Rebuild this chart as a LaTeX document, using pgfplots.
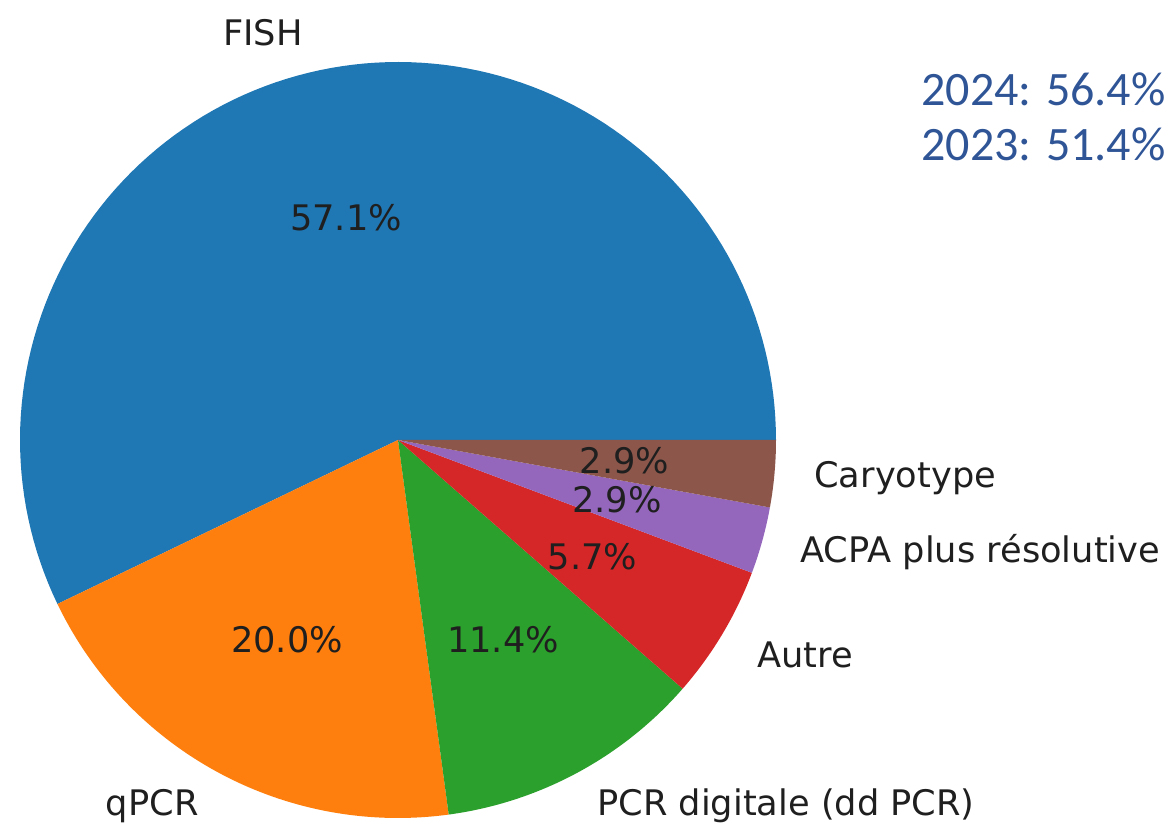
\documentclass[border=0pt]{standalone}
\usepackage{pgfplots}
\pgfplotsset{compat=1.18}
\usepackage{pgfplotstable}
\usepackage{fontspec}
\setmainfont{DejaVu Sans}
\newfontfamily\calib{Carlito}
\definecolor{c1}{HTML}{1F77B4}
\definecolor{c2}{HTML}{FF7F0E}
\definecolor{c3}{HTML}{2CA02C}
\definecolor{c4}{HTML}{D62728}
\definecolor{c5}{HTML}{9467BD}
\definecolor{c6}{HTML}{8C564B}
\definecolor{note}{HTML}{2F5597}
\tikzset{lab/.style={font=\fontsize{17.6}{20}\selectfont, text=black!88, inner sep=0pt}}
% counts: FISH 20, qPCR 7, PCR digitale 4, Autre 2, ACPA 1, Caryotype 1 (total 35)
\pgfplotstableread{
start end
0 205.714
205.714 277.714
277.714 318.857
318.857 339.429
339.429 349.714
349.714 360
}\wedges
\begin{document}
\begin{tikzpicture}
\begin{axis}[
  scale only axis, width=586.5pt, height=414pt,
  xmin=0, xmax=1173, ymin=0, ymax=828,
  hide axis, clip=false,
]
\def\cx{398}\def\cy{388}\def\R{378}
\pgfplotsforeachungrouped \i/\col in {0/c1,1/c2,2/c3,3/c4,4/c5,5/c6}{
  \pgfplotstablegetelem{\i}{start}\of\wedges \let\a=\pgfplotsretval
  \pgfplotstablegetelem{\i}{end}\of\wedges \let\b=\pgfplotsretval
  \edef\temp{\noexpand\addplot[fill=\col, draw=none, domain=\a:\b, samples=120]
    ({\cx+\R*cos(x)},{\cy+\R*sin(x)}) -- (axis cs:\cx,\cy) -- cycle;}
  \temp
}
\coordinate (ll) at (axis cs:0,0);
\coordinate (ur) at (axis cs:1173,828);
% labels (labeldistance 1.1)
\node[lab,anchor=east] at (axis cs:303,795) {FISH};
\node[lab,anchor=east] at (axis cs:199,22) {qPCR};
\node[lab,anchor=west] at (axis cs:597,22) {PCR digitale (dd PCR)};
\node[lab,anchor=west] at (axis cs:757,172.8) {Autre};
\node[lab,anchor=west] at (axis cs:800,276) {ACPA plus résolutive};
\node[lab,anchor=west] at (axis cs:814,350) {Caryotype};
% percentages (pctdistance 0.6)
\node[lab] at (axis cs:346,610) {57.1\%};
\node[lab] at (axis cs:287,188.3) {20.0\%};
\node[lab] at (axis cs:503,188.4) {11.4\%};
\node[lab] at (axis cs:592.7,271.7) {5.7\%};
\node[lab] at (axis cs:617,328) {2.9\%};
\node[lab] at (axis cs:624.5,367.7) {2.9\%};
% note
\node[anchor=east, text=note, inner sep=0pt, font=\calib\fontsize{24}{28}\selectfont] at (axis cs:1166,739) {2024: 56.4\%};
\node[anchor=east, text=note, inner sep=0pt, font=\calib\fontsize{24}{28}\selectfont] at (axis cs:1166,684) {2023: 51.4\%};
\end{axis}
\pgfresetboundingbox
\path (ll) rectangle (ur);
\end{tikzpicture}
\end{document}
